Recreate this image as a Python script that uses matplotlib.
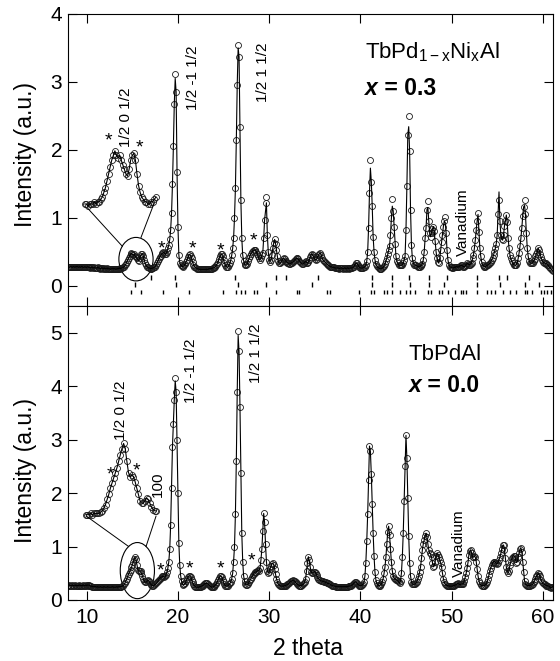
import numpy as np
import matplotlib
matplotlib.use("Agg")
import matplotlib.pyplot as plt
from matplotlib.patches import Ellipse
from matplotlib.transforms import offset_copy

plt.rcParams['font.family'] = ['Liberation Sans', 'DejaVu Sans']
plt.rcParams['mathtext.fontset'] = 'custom'
plt.rcParams['mathtext.rm'] = 'Liberation Sans'
plt.rcParams['mathtext.it'] = 'Liberation Sans:italic'
plt.rcParams['mathtext.bf'] = 'Liberation Sans:bold'

# ---------------------------------------------------------------
# observed intensity, 2theta = 8.0 ... 61.1 in steps of 0.1 deg
# (one row per degree, read off the figure)
# ---------------------------------------------------------------
obs_x03 = [
    0.28, 0.27, 0.28, 0.28, 0.27, 0.28, 0.28, 0.27, 0.28, 0.28,  # 8
    0.28, 0.27, 0.28, 0.27, 0.28, 0.28, 0.27, 0.27, 0.28, 0.27,  # 9
    0.27, 0.28, 0.27, 0.27, 0.26, 0.27, 0.27, 0.26, 0.27, 0.26,  # 10
    0.26, 0.26, 0.27, 0.26, 0.26, 0.25, 0.26, 0.26, 0.25, 0.26,  # 11
    0.25, 0.25, 0.26, 0.25, 0.25, 0.25, 0.24, 0.25, 0.25, 0.25,  # 12
    0.25, 0.25, 0.24, 0.25, 0.25, 0.25, 0.26, 0.25, 0.26, 0.26,  # 13
    0.27, 0.28, 0.30, 0.32, 0.35, 0.38, 0.41, 0.44, 0.46, 0.48,  # 14
    0.46, 0.45, 0.46, 0.44, 0.42, 0.40, 0.38, 0.37, 0.40, 0.44,  # 15
    0.46, 0.47, 0.44, 0.38, 0.33, 0.30, 0.28, 0.27, 0.26, 0.26,  # 16
    0.25, 0.25, 0.26, 0.26, 0.27, 0.28, 0.30, 0.33, 0.36, 0.39,  # 17
    0.42, 0.44, 0.46, 0.48, 0.49, 0.48, 0.46, 0.47, 0.50, 0.55,  # 18
    0.60, 0.68, 0.82, 1.07, 1.50, 2.05, 2.68, 3.12, 2.85, 1.68,  # 19
    0.87, 0.45, 0.34, 0.30, 0.29, 0.28, 0.29, 0.30, 0.32, 0.35,  # 20
    0.38, 0.42, 0.45, 0.46, 0.44, 0.40, 0.35, 0.31, 0.28, 0.27,  # 21
    0.26, 0.25, 0.25, 0.24, 0.24, 0.24, 0.24, 0.24, 0.24, 0.24,  # 22
    0.24, 0.24, 0.24, 0.24, 0.25, 0.25, 0.25, 0.25, 0.26, 0.26,  # 23
    0.27, 0.28, 0.30, 0.32, 0.35, 0.39, 0.43, 0.46, 0.46, 0.43,  # 24
    0.38, 0.33, 0.30, 0.28, 0.27, 0.28, 0.30, 0.33, 0.38, 0.45,  # 25
    0.55, 0.70, 1.00, 1.43, 2.14, 2.96, 3.54, 3.37, 2.33, 1.26,  # 26
    0.70, 0.45, 0.37, 0.32, 0.30, 0.30, 0.32, 0.36, 0.40, 0.44,  # 27
    0.47, 0.49, 0.51, 0.52, 0.53, 0.52, 0.50, 0.47, 0.43, 0.40,  # 28
    0.38, 0.40, 0.45, 0.48, 0.70, 0.97, 1.31, 1.22, 0.75, 0.50,  # 29
    0.38, 0.35, 0.38, 0.45, 0.55, 0.63, 0.68, 0.62, 0.52, 0.43,  # 30
    0.36, 0.33, 0.33, 0.35, 0.37, 0.39, 0.40, 0.39, 0.37, 0.35,  # 31
    0.34, 0.33, 0.32, 0.32, 0.33, 0.34, 0.35, 0.36, 0.38, 0.39,  # 32
    0.40, 0.40, 0.39, 0.37, 0.35, 0.33, 0.32, 0.32, 0.33, 0.35,  # 33
    0.36, 0.34, 0.33, 0.35, 0.38, 0.42, 0.45, 0.47, 0.45, 0.42,  # 34
    0.39, 0.38, 0.39, 0.42, 0.45, 0.47, 0.48, 0.45, 0.41, 0.38,  # 35
    0.36, 0.35, 0.34, 0.32, 0.31, 0.30, 0.29, 0.28, 0.28, 0.27,  # 36
    0.27, 0.27, 0.26, 0.26, 0.26, 0.26, 0.26, 0.25, 0.26, 0.26,  # 37
    0.26, 0.25, 0.26, 0.26, 0.25, 0.26, 0.26, 0.25, 0.26, 0.26,  # 38
    0.26, 0.26, 0.27, 0.28, 0.31, 0.33, 0.33, 0.31, 0.29, 0.27,  # 39
    0.26, 0.26, 0.26, 0.26, 0.27, 0.28, 0.30, 0.36, 0.50, 0.85,  # 40
    1.37, 1.85, 1.53, 1.17, 0.72, 0.50, 0.38, 0.32, 0.29, 0.27,  # 41
    0.26, 0.25, 0.25, 0.25, 0.26, 0.27, 0.29, 0.32, 0.36, 0.40,  # 42
    0.46, 0.52, 0.58, 0.75, 0.99, 1.27, 1.10, 0.87, 0.62, 0.43,  # 43
    0.36, 0.33, 0.31, 0.30, 0.30, 0.30, 0.31, 0.33, 0.38, 0.43,  # 44
    0.82, 1.46, 2.22, 2.50, 1.98, 1.12, 0.60, 0.40, 0.33, 0.31,  # 45
    0.30, 0.30, 0.29, 0.28, 0.28, 0.28, 0.29, 0.30, 0.32, 0.38,  # 46
    0.50, 0.70, 0.85, 1.12, 1.24, 0.95, 0.78, 0.72, 0.78, 0.84,  # 47
    0.87, 0.80, 0.65, 0.50, 0.40, 0.35, 0.33, 0.40, 0.52, 0.64,  # 48
    0.75, 0.87, 0.95, 1.01, 0.78, 0.52, 0.38, 0.31, 0.28, 0.27,  # 49
    0.27, 0.26, 0.26, 0.27, 0.27, 0.28, 0.28, 0.27, 0.28, 0.29,  # 50
    0.30, 0.30, 0.29, 0.28, 0.28, 0.29, 0.31, 0.33, 0.32, 0.31,  # 51
    0.31, 0.32, 0.34, 0.40, 0.45, 0.55, 0.67, 0.82, 0.95, 1.07,  # 52
    0.79, 0.55, 0.43, 0.35, 0.31, 0.29, 0.28, 0.28, 0.29, 0.30,  # 53
    0.31, 0.32, 0.33, 0.35, 0.38, 0.41, 0.45, 0.50, 0.55, 0.62,  # 54
    0.75, 1.06, 1.26, 0.95, 0.75, 0.68, 0.67, 0.75, 0.88, 0.95,  # 55
    1.04, 0.93, 0.70, 0.55, 0.45, 0.40, 0.36, 0.33, 0.31, 0.30,  # 56
    0.30, 0.31, 0.34, 0.40, 0.48, 0.58, 0.70, 0.85, 1.02, 1.16,  # 57
    1.26, 1.05, 0.77, 0.55, 0.43, 0.37, 0.34, 0.33, 0.33, 0.34,  # 58
    0.36, 0.39, 0.43, 0.47, 0.50, 0.55, 0.52, 0.47, 0.42, 0.38,  # 59
    0.35, 0.34, 0.33, 0.33, 0.32, 0.31, 0.30, 0.28, 0.26, 0.25,  # 60
    0.23, 0.21,                                                  # 61
]

obs_x00 = [
    0.27, 0.28, 0.27, 0.27, 0.28, 0.27, 0.27, 0.28, 0.27, 0.27,  # 8
    0.27, 0.27, 0.28, 0.27, 0.27, 0.27, 0.28, 0.27, 0.27, 0.28,  # 9
    0.27, 0.28, 0.28, 0.27, 0.26, 0.26, 0.25, 0.25, 0.25, 0.25,  # 10
    0.25, 0.24, 0.25, 0.24, 0.24, 0.25, 0.24, 0.24, 0.24, 0.25,  # 11
    0.24, 0.24, 0.24, 0.25, 0.24, 0.24, 0.24, 0.24, 0.25, 0.24,  # 12
    0.24, 0.24, 0.24, 0.25, 0.24, 0.25, 0.25, 0.25, 0.25, 0.26,  # 13
    0.27, 0.29, 0.32, 0.36, 0.40, 0.45, 0.49, 0.53, 0.57, 0.61,  # 14
    0.66, 0.71, 0.76, 0.80, 0.76, 0.66, 0.57, 0.54, 0.55, 0.54,  # 15
    0.50, 0.45, 0.40, 0.35, 0.33, 0.33, 0.35, 0.37, 0.36, 0.33,  # 16
    0.30, 0.28, 0.27, 0.27, 0.28, 0.29, 0.31, 0.33, 0.35, 0.38,  # 17
    0.40, 0.42, 0.43, 0.44, 0.44, 0.43, 0.44, 0.47, 0.52, 0.60,  # 18
    0.72, 0.95, 1.40, 2.10, 2.87, 3.30, 3.75, 4.15, 3.90, 3.00,  # 19
    2.00, 1.06, 0.65, 0.45, 0.35, 0.30, 0.28, 0.29, 0.31, 0.35,  # 20
    0.39, 0.43, 0.45, 0.45, 0.43, 0.38, 0.33, 0.29, 0.27, 0.25,  # 21
    0.24, 0.24, 0.24, 0.24, 0.25, 0.25, 0.26, 0.27, 0.28, 0.30,  # 22
    0.31, 0.31, 0.31, 0.30, 0.28, 0.26, 0.25, 0.24, 0.24, 0.25,  # 23
    0.26, 0.28, 0.30, 0.33, 0.37, 0.41, 0.44, 0.45, 0.43, 0.38,  # 24
    0.33, 0.29, 0.27, 0.26, 0.26, 0.27, 0.29, 0.31, 0.34, 0.40,  # 25
    0.50, 0.72, 1.00, 1.60, 2.60, 3.90, 5.03, 4.65, 3.62, 2.37,  # 26
    1.25, 0.72, 0.45, 0.35, 0.30, 0.28, 0.28, 0.30, 0.33, 0.37,  # 27
    0.40, 0.43, 0.46, 0.49, 0.51, 0.52, 0.53, 0.54, 0.56, 0.55,  # 28
    0.60, 0.75, 0.95, 1.30, 1.62, 1.45, 1.05, 0.72, 0.55, 0.50,  # 29
    0.52, 0.58, 0.64, 0.68, 0.69, 0.66, 0.58, 0.48, 0.40, 0.34,  # 30
    0.30, 0.28, 0.27, 0.26, 0.26, 0.26, 0.26, 0.27, 0.27, 0.28,  # 31
    0.29, 0.30, 0.32, 0.34, 0.35, 0.36, 0.37, 0.36, 0.35, 0.33,  # 32
    0.31, 0.29, 0.28, 0.27, 0.27, 0.27, 0.28, 0.29, 0.31, 0.34,  # 33
    0.40, 0.55, 0.70, 0.81, 0.74, 0.62, 0.53, 0.50, 0.51, 0.53,  # 34
    0.53, 0.51, 0.47, 0.43, 0.40, 0.38, 0.37, 0.36, 0.35, 0.35,  # 35
    0.34, 0.34, 0.33, 0.32, 0.31, 0.31, 0.30, 0.29, 0.28, 0.27,  # 36
    0.27, 0.26, 0.26, 0.25, 0.25, 0.25, 0.25, 0.25, 0.25, 0.25,  # 37
    0.25, 0.25, 0.25, 0.25, 0.25, 0.25, 0.25, 0.26, 0.26, 0.26,  # 38
    0.27, 0.28, 0.30, 0.32, 0.34, 0.34, 0.32, 0.30, 0.28, 0.27,  # 39
    0.27, 0.27, 0.28, 0.30, 0.33, 0.45, 0.70, 1.10, 1.60, 2.25,  # 40
    2.88, 2.78, 2.35, 1.80, 1.25, 0.82, 0.52, 0.38, 0.31, 0.28,  # 41
    0.27, 0.27, 0.28, 0.30, 0.34, 0.40, 0.50, 0.62, 0.80, 1.05,  # 42
    1.28, 1.38, 1.22, 0.95, 0.72, 0.55, 0.45, 0.41, 0.39, 0.38,  # 43
    0.37, 0.36, 0.34, 0.31, 0.36, 0.50, 0.80, 1.25, 1.85, 2.50,  # 44
    3.08, 2.65, 1.90, 1.20, 0.70, 0.45, 0.34, 0.30, 0.29, 0.29,  # 45
    0.30, 0.32, 0.34, 0.39, 0.45, 0.53, 0.62, 0.78, 0.94, 1.05,  # 46
    1.12, 1.20, 1.25, 1.18, 1.05, 0.94, 0.88, 0.86, 0.80, 0.70,  # 47
    0.62, 0.64, 0.72, 0.82, 0.87, 0.85, 0.80, 0.75, 0.70, 0.62,  # 48
    0.50, 0.40, 0.33, 0.30, 0.28, 0.27, 0.27, 0.26, 0.26, 0.26,  # 49
    0.26, 0.26, 0.27, 0.27, 0.28, 0.29, 0.30, 0.31, 0.30, 0.29,  # 50
    0.29, 0.30, 0.30, 0.31, 0.36, 0.43, 0.50, 0.60, 0.70, 0.85,  # 51
    0.92, 0.94, 0.88, 0.80, 0.80, 0.82, 0.80, 0.72, 0.58, 0.45,  # 52
    0.36, 0.31, 0.28, 0.27, 0.27, 0.27, 0.27, 0.28, 0.30, 0.34,  # 53
    0.40, 0.47, 0.55, 0.60, 0.65, 0.69, 0.72, 0.72, 0.70, 0.69,  # 54
    0.68, 0.70, 0.75, 0.80, 0.87, 0.95, 1.02, 1.03, 0.94, 0.78,  # 55
    0.62, 0.54, 0.50, 0.55, 0.65, 0.72, 0.78, 0.81, 0.83, 0.82,  # 56
    0.76, 0.70, 0.72, 0.80, 0.88, 0.95, 0.98, 0.90, 0.72, 0.52,  # 57
    0.36, 0.30, 0.28, 0.27, 0.27, 0.27, 0.27, 0.28, 0.28, 0.30,  # 58
    0.33, 0.36, 0.40, 0.44, 0.47, 0.50, 0.48, 0.44, 0.38, 0.34,  # 59
    0.31, 0.30, 0.29, 0.28, 0.27, 0.27, 0.26, 0.25, 0.24, 0.22,  # 60
    0.24, 0.25,                                                  # 61
]

# calculated profile differs from the data only at some peak tops
calc_x03_pos = [19.7, 26.6, 29.6, 41.1, 43.5, 45.3, 47.4, 49.3, 52.9, 55.2, 58.0]
calc_x03_val = [3.05, 3.50, 1.10, 1.73, 1.17, 2.34, 1.15, 0.93, 1.05, 1.38, 1.18]
calc_x00_pos = [19.7, 26.6]
calc_x00_val = [4.10, 4.95]

# Bragg reflection markers (x = 0.3 panel), three rows
bragg_row1 = [17.1, 19.7, 26.25, 30.7, 31.9, 35.4, 41.3, 43.5, 45.3, 47.5, 49.5,
              52.8, 55.2, 56.1, 58.5]
bragg_row2 = [15.3, 19.75, 26.6, 29.6, 34.7, 41.3, 43.5, 45.4, 47.5, 49.2, 52.8,
              55.3, 58.1, 59.6]
bragg_row3 = [14.8, 16.0, 18.4, 21.2, 24.9, 26.4, 26.9, 27.4, 28.35, 28.65, 30.7,
              33.0, 33.3, 36.3, 36.7, 39.8, 41.2, 41.5, 42.6, 42.9, 43.5, 44.3,
              45.0, 45.4, 46.0, 47.4, 47.7, 48.6, 48.9, 49.6, 50.4, 51.0, 51.3,
              51.6, 52.8, 53.9, 54.3, 54.8, 55.6, 56.4, 57.1, 58.0, 58.3, 58.8,
              59.8, 60.1, 60.5, 60.9]

# annotations: (text, x, y of text start)
hkl_x03 = [('1/2 0 1/2', 14.3, 2.04), ('1/2 -1 1/2', 21.7, 2.59),
           ('1/2 1 1/2', 29.3, 2.71), ('Vanadium', 51.3, 0.43)]
hkl_x00 = [('1/2 0 1/2', 13.8, 3.0), ('100', 17.75, 1.93),
           ('1/2 -1 1/2', 21.4, 3.69), ('1/2 1 1/2', 28.6, 4.06),
           ('Vanadium', 50.8, 0.43)]
star_x03 = [(12.35, 2.20), (15.75, 2.09), (18.2, 0.60), (21.6, 0.60), (24.7, 0.57), (28.3, 0.72)]
star_x00 = [(12.6, 2.42), (15.45, 2.50), (18.1, 0.62), (21.3, 0.66), (24.7, 0.66), (28.1, 0.81)]


def profile(obs, cpos, cval):
    y = np.array(obs)
    x = np.round(8.0 + 0.1 * np.arange(len(y)), 1)
    calc = y.copy()
    for p, v in zip(cpos, cval):
        calc[np.argmin(np.abs(x - p))] = v
    return x, y, calc


def draw_pattern(ax, x, y, calc):
    ax.plot(x, y, 'o', ms=4.3, mfc='none', mec='#1a1a1a', mew=0.6, zorder=2)
    ax.plot(x, calc, '-', color='black', lw=0.8, zorder=3)


def draw_inset(ax, x, y, calc, lo, hi, x0, sx, y0, yb, sy):
    m = (x >= lo) & (x <= hi)
    xi = x0 + (x[m] - lo) * sx
    ax.plot(xi, y0 + (y[m] - yb) * sy, 'o', ms=4.3, mfc='none', mec='#1a1a1a', mew=0.6, zorder=2)
    ax.plot(xi, y0 + (calc[m] - yb) * sy, '-', color='black', lw=0.8, zorder=3)


def style_axes(ax):
    ax.set_xlim(7.92, 61.15)
    ax.set_xticks([10, 20, 30, 40, 50, 60])
    ax.tick_params(direction='in', length=6.5, width=0.8, top=True, right=True,
                   labelsize=15)
    ax.tick_params(axis='x', pad=6)
    ax.tick_params(axis='y', pad=4)
    for s in ax.spines.values():
        s.set_linewidth(0.8)


def label_sample(ax, x, y_name, y_x, name, xval):
    ax.text(x, y_name, name, fontsize=16)
    t = ax.text(x, y_x, 'x', fontsize=16.5, fontweight='bold', fontstyle='italic')
    ax.annotate(' = ' + xval, xy=(1, 0), xycoords=t, va='bottom', ha='left',
                fontsize=16.5, fontweight='bold')


fig = plt.figure(figsize=(5.6, 6.61), dpi=100)
ax1 = fig.add_axes([0.121, 0.537, 0.867, 0.442])
ax2 = fig.add_axes([0.121, 0.0923, 0.867, 0.4447])

# ---------------- top panel : x = 0.3 ----------------
x, y, calc = profile(obs_x03, calc_x03_pos, calc_x03_val)
draw_pattern(ax1, x, y, calc)
draw_inset(ax1, x, y, calc, 13.0, 17.5, 9.8, 1.73, 1.27, 0.27, 3.4)
ax1.add_patch(Ellipse((15.4, 0.39), 3.75, 0.64, fill=False, lw=0.8, ec='black'))
ax1.plot([10.1, 13.9], [1.14, 0.58], color='black', lw=0.7)
ax1.plot([17.35, 15.95], [1.20, 0.71], color='black', lw=0.7)
ax1.vlines(bragg_row1, 0.08, 0.15, color='black', lw=1.0)
ax1.vlines(bragg_row2, -0.02, 0.05, color='black', lw=1.0)
ax1.vlines(bragg_row3, -0.13, -0.06, color='black', lw=1.0)
for txt, tx, ty in hkl_x03:
    ax1.text(tx, ty, txt, rotation=90, ha='center', va='bottom', fontsize=11)
star_tr1 = offset_copy(ax1.transData, fig=fig, y=-4.5, units='dots')
for sx_, sy_ in star_x03:
    ax1.text(sx_, sy_, '*', ha='center', va='center', fontsize=14, transform=star_tr1)
label_sample(ax1, 40.5, 3.35, 2.81, r'TbPd$_{\mathrm{1-x}}$Ni$_{\mathrm{x}}$Al', '0.3')
style_axes(ax1)
ax1.set_ylim(-0.3, 4.0)
ax1.set_yticks([0, 1, 2, 3, 4])
ax1.tick_params(labelbottom=False)
ax1.set_ylabel('Intensity (a.u.)', fontsize=16.5)
ax1.yaxis.set_label_coords(-0.064, 0.52)

# ---------------- bottom panel : x = 0.0 ----------------
x, y, calc = profile(obs_x00, calc_x00_pos, calc_x00_val)
draw_pattern(ax2, x, y, calc)
draw_inset(ax2, x, y, calc, 13.0, 17.3, 9.9, 1.8, 1.62, 0.25, 2.38)
ax2.add_patch(Ellipse((15.55, 0.55), 3.75, 1.05, fill=False, lw=0.8, ec='black'))
ax2.plot([9.95, 14.6], [1.57, 1.0], color='black', lw=0.7)
ax2.plot([17.6, 16.5], [1.57, 1.0], color='black', lw=0.7)
for txt, tx, ty in hkl_x00:
    ax2.text(tx, ty, txt, rotation=90, ha='center', va='bottom', fontsize=11)
star_tr2 = offset_copy(ax2.transData, fig=fig, y=-4.5, units='dots')
for sx_, sy_ in star_x00:
    ax2.text(sx_, sy_, '*', ha='center', va='center', fontsize=14, transform=star_tr2)
label_sample(ax2, 45.3, 4.49, 3.90, 'TbPdAl', '0.0')
style_axes(ax2)
ax2.set_ylim(0, 5.5)
ax2.set_yticks([0, 1, 2, 3, 4, 5])
ax2.set_ylabel('Intensity (a.u.)', fontsize=16.5)
ax2.yaxis.set_label_coords(-0.064, 0.44)
ax2.set_xlabel('2 theta', fontsize=16.5)
ax2.xaxis.set_label_coords(0.494, -0.125)

fig.savefig('out.png', dpi=100)
